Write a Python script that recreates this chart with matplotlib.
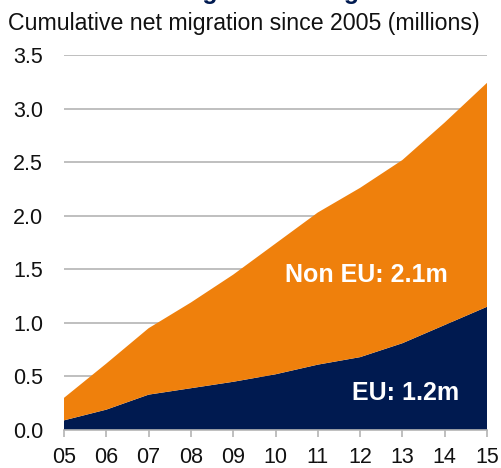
import matplotlib
matplotlib.use("Agg")
from matplotlib import pyplot as plt
import numpy as np

plt.rcParams['font.family'] = ['Liberation Sans', 'DejaVu Sans']

# cumulative net migration since 2005, millions
years = ['05', '06', '07', '08', '09', '10', '11', '12', '13', '14', '15']
eu = [0.09, 0.19, 0.33, 0.39, 0.45, 0.52, 0.61, 0.68, 0.81, 0.98, 1.15]
non_eu = [0.21, 0.43, 0.62, 0.80, 1.00, 1.22, 1.42, 1.58, 1.71, 1.89, 2.09]
y_ticks = [0.0, 0.5, 1.0, 1.5, 2.0, 2.5, 3.0, 3.5]

NAVY = '#001a50'
ORANGE = '#ef800c'
GRID = '#b4b4b4'

fig = plt.figure(figsize=(5.01, 4.68), dpi=100)
ax = fig.add_axes([64 / 501, 38 / 468, 423 / 501, 375 / 468])

x = np.arange(len(years))
ax.stackplot(x, eu, non_eu, colors=[NAVY, ORANGE], linewidth=0, zorder=2)

ax.set_xlim(0, len(years) - 1)
ax.set_ylim(0, 3.5)
ax.set_xticks(x)
ax.set_xticklabels(years)
ax.set_yticks(y_ticks)
ax.set_yticklabels(['{:.1f}'.format(v) for v in y_ticks])

ax.grid(axis='y', color=GRID, linewidth=1.2, zorder=1)
ax.set_axisbelow(True)
for side in ['top', 'right', 'left']:
    ax.spines[side].set_visible(False)
ax.spines['bottom'].set_color(GRID)
ax.spines['bottom'].set_linewidth(1.2)
ax.spines['bottom'].set_zorder(3)

ax.tick_params(axis='y', length=0, pad=15, labelsize=15.5, labelcolor='#111111')
ax.tick_params(axis='x', length=5, width=1.2, color=GRID, pad=7,
               labelsize=15.5, labelcolor='#111111')

# series labels
ax.text(7.14, 1.445, 'Non EU: 2.1m', color='white', fontsize=18, fontweight='bold',
        ha='center', va='center', zorder=4)
ax.text(8.08, 0.345, 'EU: 1.2m', color='white', fontsize=18, fontweight='bold',
        ha='center', va='center', zorder=4)

# subtitle and cut-off headline
fig.text(8 / 501, 1 - 30 / 468, 'Cumulative net migration since 2005 (millions)',
         fontsize=16.7, color='#111111', ha='left', va='baseline')
fig.text(0.5, 1 + 1.5 / 468, 'Net migration is high', fontsize=18,
         fontweight='bold', color=NAVY, ha='center', va='baseline')

fig.savefig('out.png', dpi=100)
